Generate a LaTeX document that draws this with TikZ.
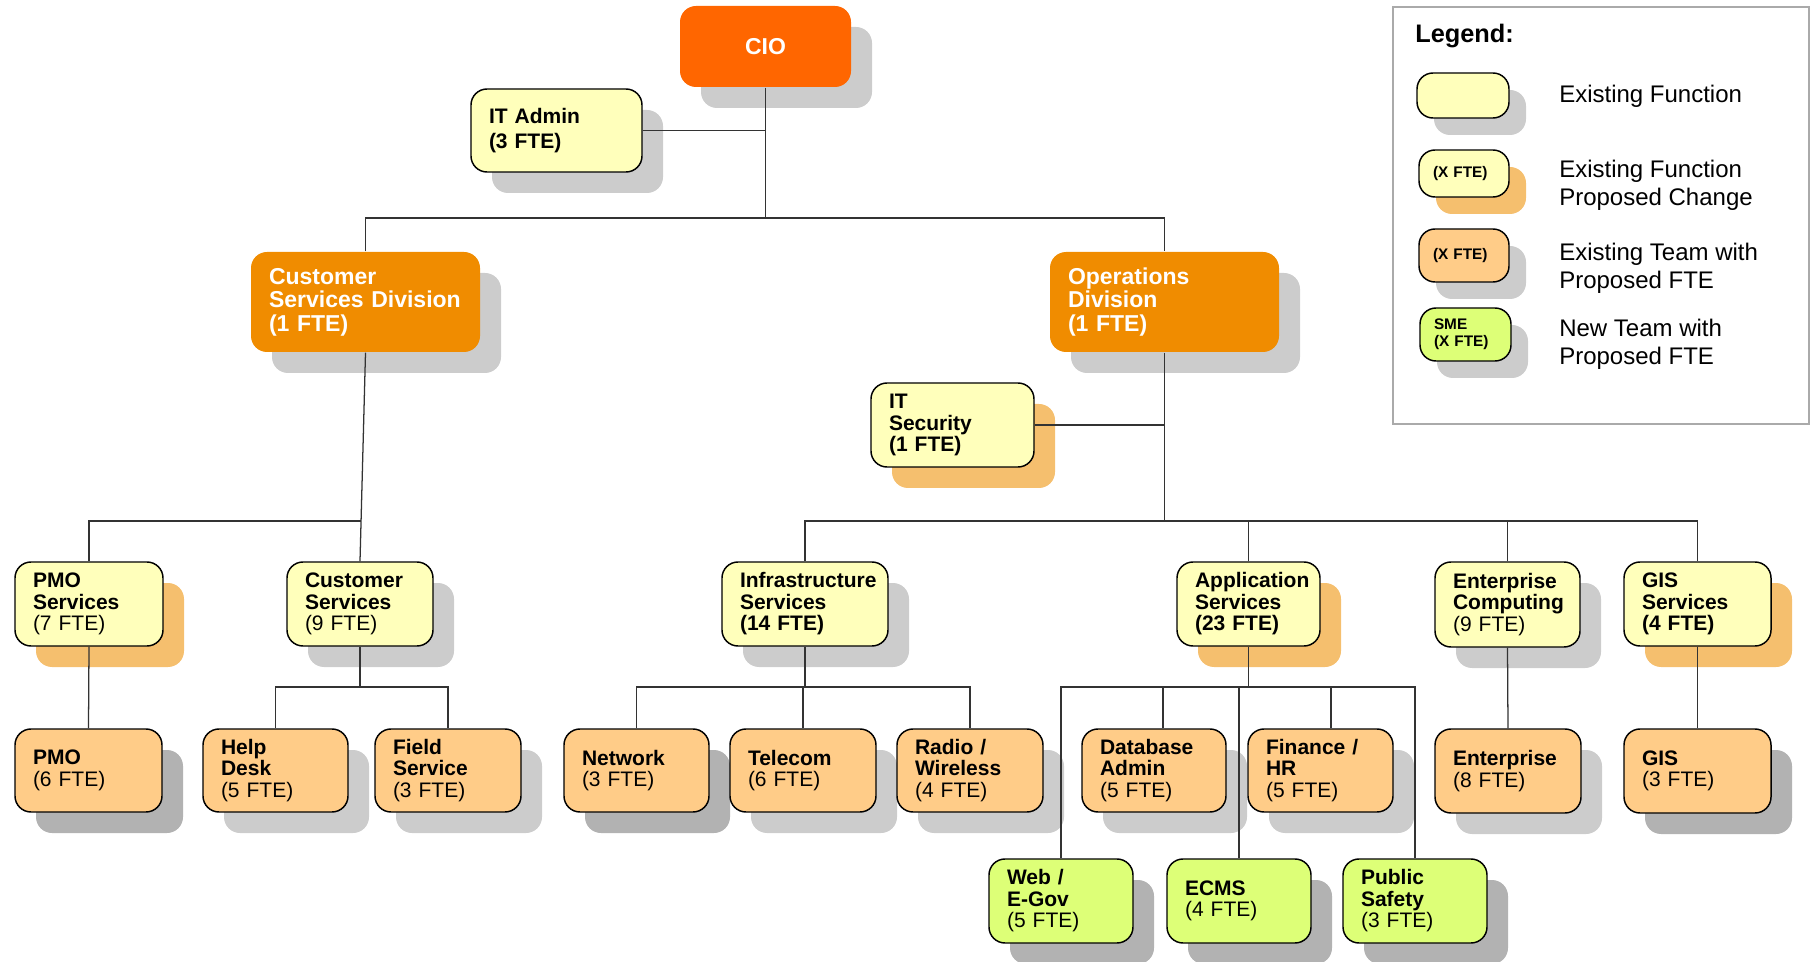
\documentclass[tikz,border=0pt]{standalone}
\usepackage{fontspec}
\setmainfont{Liberation Sans}
\usetikzlibrary{shadows}
\hfuzz=40pt
\definecolor{cCIO}{HTML}{FF6600}
\definecolor{cDiv}{HTML}{F08C00}
\definecolor{cYel}{HTML}{FFFFBB}
\definecolor{cTeam}{HTML}{FFCC88}
\definecolor{cGrn}{HTML}{DDFF77}
\definecolor{cShL}{HTML}{CCCCCC}
\definecolor{cShD}{HTML}{B2B2B2}
\definecolor{cShO}{HTML}{F5BF6E}
\definecolor{cLine}{HTML}{333333}
\definecolor{cFrame}{HTML}{AAAAAA}
\tikzset{
  obox/.style={rectangle, rounded corners=12pt, draw=black, line width=1.1pt,
    inner ysep=0pt, align=left, font=\fontsize{15.75}{16.1}\selectfont},
  yel/.style={obox, fill=cYel},
  team/.style={obox, fill=cTeam},
  grn/.style={obox, fill=cGrn},
  divn/.style={obox, draw=none, fill=cDiv, text=white, font=\fontsize{17.25}{17.6}\selectfont\bfseries},
  cion/.style={obox, draw=none, fill=cCIO, text=white, align=center, font=\fontsize{17.25}{18}\selectfont\bfseries},
  legb/.style={font=\fontsize{11.5}{12.75}\selectfont\bfseries},
  shL/.style={drop shadow={shadow xshift=15.75pt, shadow yshift=-15.75pt, fill=cShL, opacity=1}},
  shD/.style={drop shadow={shadow xshift=15.75pt, shadow yshift=-15.75pt, fill=cShD, opacity=1}},
  shO/.style={drop shadow={shadow xshift=15.75pt, shadow yshift=-15.75pt, fill=cShO, opacity=1}},
  shLs/.style={drop shadow={shadow xshift=12.75pt, shadow yshift=-12.75pt, fill=cShL, opacity=1}},
  shOs/.style={drop shadow={shadow xshift=12.75pt, shadow yshift=-12.75pt, fill=cShO, opacity=1}},
  conn/.style={draw=cLine, line width=0.95pt},
  legt/.style={anchor=west, inner sep=0pt, align=left, font=\fontsize{18}{21}\selectfont},
}
% name, x1, y1, x2, y2, style, text ; optional: padding in pt
\newcommand\bx[8][13.5]{%
  \pgfmathsetmacro\cx{(#3+#5)/2}%
  \pgfmathsetmacro\cy{(#4+#6)/2}%
  \pgfmathsetmacro\bw{(#5-#3)*0.75}%
  \pgfmathsetmacro\bh{(#6-#4)*0.75}%
  \pgfmathsetmacro\tw{(#5-#3)*0.75-2*#1}%
  \node[#7, inner xsep=#1pt, minimum width=\bw pt, minimum height=\bh pt, text width=\tw pt] (#2) at (\cx,\cy) {#8};%
}
\begin{document}
\begin{tikzpicture}[x=0.75pt, y=-0.75pt]
\useasboundingbox (0,0) rectangle (1811,962);

% ---- boxes ----
\bx{cio}{680}{6}{851}{87}{cion,shL}{CIO}
\bx{itadmin}{471}{89}{642}{172}{yel,shL,font=\fontsize{15.75}{19}\selectfont}{\textbf{IT Admin}\\\textbf{(3 FTE)}}
\bx{csd}{251}{252}{480}{352}{divn,shL}{Customer\\Services Division\\(1 FTE)}
\bx{ops}{1050}{252}{1279}{352}{divn,shL}{Operations\\Division\\(1 FTE)}
\bx{itsec}{871}{383}{1034}{467}{yel,shO}{\textbf{IT}\\\textbf{Security}\\\textbf{(1 FTE)}}

\bx{pmos}{15}{562}{163}{646}{yel,shO}{\textbf{PMO}\\\textbf{Services}\\(7 FTE)}
\bx{cs}{287}{562}{433}{646}{yel,shL}{\textbf{Customer}\\\textbf{Services}\\(9 FTE)}
\bx{infra}{722}{562}{888}{646}{yel,shL}{\textbf{Infrastructure}\\\textbf{Services}\\\textbf{(14 FTE)}}
\bx{app}{1177}{562}{1320}{646}{yel,shO}{\textbf{Application}\\\textbf{Services}\\\textbf{(23 FTE)}}
\bx{entc}{1435}{562}{1580}{647}{yel,shL}{\textbf{Enterprise}\\\textbf{Computing}\\(9 FTE)}
\bx{giss}{1624}{562}{1771}{646}{yel,shO}{\textbf{GIS}\\\textbf{Services}\\\textbf{(4 FTE)}}

\bx{pmo}{15}{729}{162}{812}{team,shD}{\textbf{PMO}\\(6 FTE)}
\bx{help}{203}{729}{348}{812}{team,shL}{\textbf{Help}\\\textbf{Desk}\\(5 FTE)}
\bx{field}{375}{729}{521}{812}{team,shL}{\textbf{Field}\\\textbf{Service}\\(3 FTE)}
\bx{net}{564}{729}{709}{812}{team,shD}{\textbf{Network}\\(3 FTE)}
\bx{tel}{730}{729}{876}{812}{team,shL}{\textbf{Telecom}\\(6 FTE)}
\bx{radio}{897}{729}{1043}{812}{team,shL}{\textbf{Radio /}\\\textbf{Wireless}\\(4 FTE)}
\bx{db}{1082}{729}{1226}{812}{team,shL}{\textbf{Database}\\\textbf{Admin}\\(5 FTE)}
\bx{fin}{1248}{729}{1393}{812}{team,shL}{\textbf{Finance /}\\\textbf{HR}\\(5 FTE)}
\bx{ent}{1435}{729}{1581}{813}{team,shL}{\textbf{Enterprise}\\(8 FTE)}
\bx{gis}{1624}{729}{1771}{813}{team,shD}{\textbf{GIS}\\(3 FTE)}

\bx{web}{989}{859}{1133}{943}{grn,shD}{\textbf{Web /}\\\textbf{E-Gov}\\(5 FTE)}
\bx{ecms}{1167}{859}{1311}{943}{grn,shD}{\textbf{ECMS}\\(4 FTE)}
\bx{pubs}{1343}{859}{1487}{943}{grn,shD}{\textbf{Public}\\\textbf{Safety}\\(3 FTE)}

% ---- legend ----
\node[draw=cFrame, line width=1.5pt, minimum width=312pt, minimum height=312.75pt, inner sep=0pt] (legframe) at (1601,215.5) {};
\node[anchor=base west, inner sep=0pt, font=\fontsize{19}{22}\selectfont\bfseries] (legtitle) at (1415,43) {Legend:};
\bx[10.5]{lb1}{1417}{73}{1509}{118}{yel,shLs,legb}{}
\bx[10.5]{lb2}{1419}{150}{1509}{197}{yel,shOs,legb}{(X FTE)}
\bx[10.5]{lb3}{1419}{229}{1509}{282}{team,shLs,legb}{(X FTE)}
\bx[10.5]{lb4}{1420}{308}{1511}{361}{grn,shLs,legb}{SME\\(X FTE)}
\node[legt] (lt1) at (1559,96.5) {Existing Function};
\node[legt] (lt2) at (1559,185.5) {Existing Function\\Proposed Change};
\node[legt] (lt3) at (1559,268) {Existing Team with\\Proposed FTE};
\node[legt] (lt4) at (1559,344.5) {New Team with\\Proposed FTE};

% ---- connectors ----
\coordinate (j1) at (767,218);
\coordinate (j2) at (361,521);
\coordinate (j3) at (1164.5,521);
\coordinate (y687) at (0,687);
\coordinate (dbx) at (1163,0);
\coordinate (finx) at (1331,0);

\draw[conn] (cio.south) -- (cio.south |- j1);
\draw[conn] (itadmin.east) -- (itadmin.east -| cio.south);
\draw[conn] (csd.north) |- (ops.north |- j1) -- (ops.north);

\draw[conn] (csd.south) -- (cs.north);
\draw[conn] (pmos.north) |- (j2);

\draw[conn] (ops.south) -- (j3);
\draw[conn] (itsec.east) -- (itsec.east -| j3);
\draw[conn] (infra.north) |- (giss.north |- j3) -- (giss.north);
\draw[conn] (app.north) -- (app.north |- j3);
\draw[conn] (entc.north) -- (entc.north |- j3);

\draw[conn] (pmos.south) -- (pmo.north);
\draw[conn] (cs.south) -- (cs.south |- y687);
\draw[conn] (help.north) |- (field.north |- y687) -- (field.north);

\draw[conn] (infra.south) -- (infra.south |- y687);
\draw[conn] (net.north) |- (radio.north |- y687) -- (radio.north);
\draw[conn] (tel.north) -- (tel.north |- y687);

\draw[conn] (app.south) -- (app.south |- y687);
\draw[conn] (web.north) |- (pubs.north |- y687) -- (pubs.north);
\draw[conn] (dbx |- db.north) -- (dbx |- y687);
\draw[conn] (finx |- fin.north) -- (finx |- y687);
\draw[conn] (ecms.north) -- (ecms.north |- y687);

\draw[conn] (entc.south) -- (ent.north);
\draw[conn] (giss.south) -- (gis.north);
\end{tikzpicture}
\end{document}
